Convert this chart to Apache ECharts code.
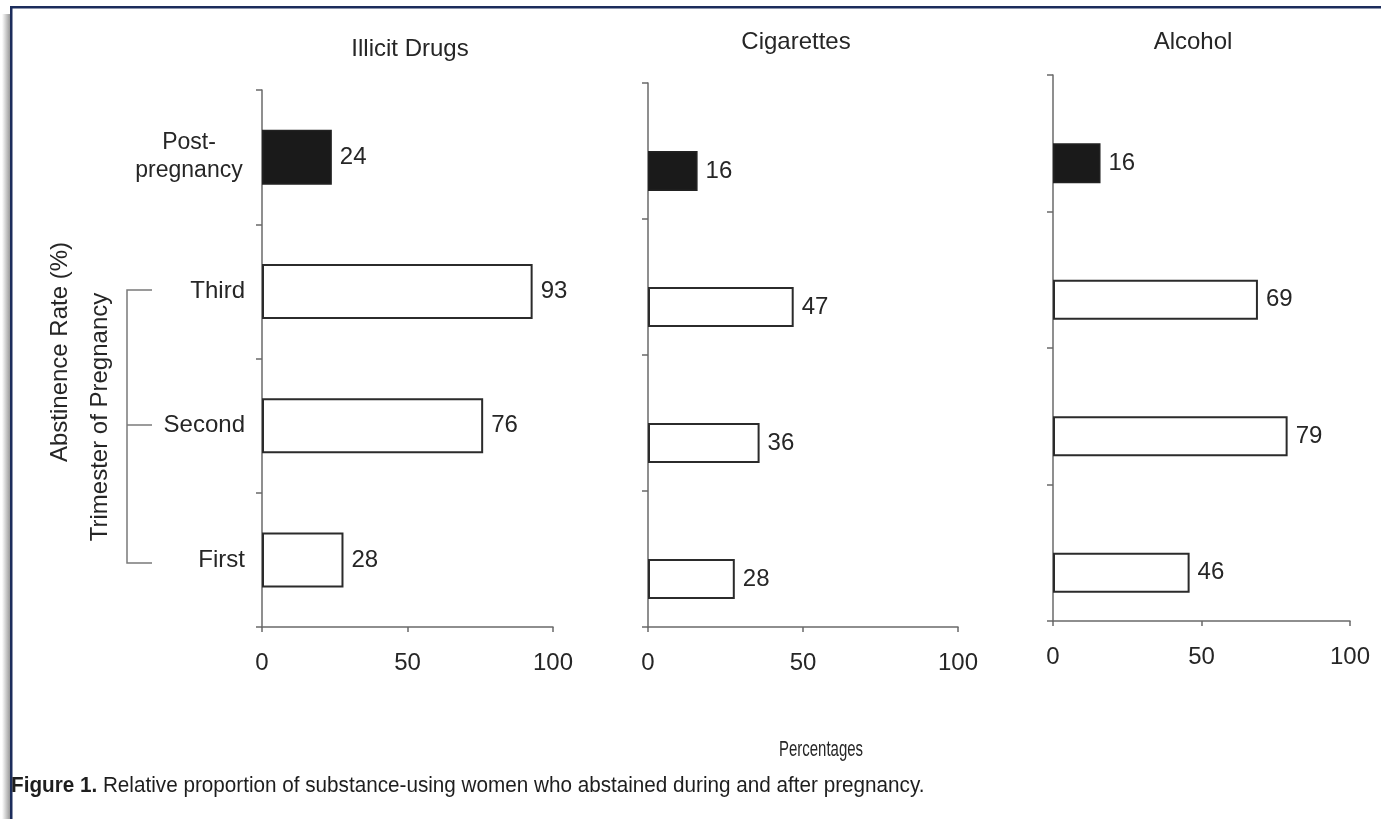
<!DOCTYPE html>
<html><head><meta charset="utf-8">
<script src="https://cdn.jsdelivr.net/npm/echarts@6/dist/echarts.min.js"></script>
<style>html,body{margin:0;padding:0;background:#fff}#c{width:1381px;height:819px}</style>
</head><body><div id="c"></div>
<script>
// ---- data ----
const categories = ['First', 'Second', 'Third', 'Post-pregnancy'];
const panelTitles = ['Illicit Drugs', 'Cigarettes', 'Alcohol'];
const illicitDrugs = [28, 76, 93, 24];
const cigarettes = [28, 36, 47, 16];
const alcohol = [46, 79, 69, 16];
const xTickLabels = [0, 50, 100];
const yAxisTitle = 'Abstinence Rate (%)';
const groupTitle = 'Trimester of Pregnancy';
const xAxisTitle = 'Percentages';
const captionBold = 'Figure 1.';
const captionText = 'Relative proportion of substance-using women who abstained during and after pregnancy.';

// ---- layout ----
const FONT = '"Liberation Sans", Arial, sans-serif';
const TXT = '#262626';
const panelData = [illicitDrugs, cigarettes, alcohol];
const frames = [
  {left: 262, top: 90, width: 291, height: 537, shift: 0, barW: 55, titleX: 405, titleY: 44},
  {left: 648, top: 83, width: 310, height: 544, shift: 20, barW: 40, titleX: 791, titleY: 37},
  {left: 1053, top: 75, width: 297, height: 546, shift: 20, barW: 40, titleX: 1188, titleY: 37}
];

const grid = [], xAxis = [], yAxis = [], series = [], title = [];
frames.forEach((f, p) => {
  grid.push({left: f.left, top: f.top, width: f.width, height: f.height, containLabel: false});
  grid.push({left: f.left, top: f.top + f.shift, width: f.width, height: f.height, containLabel: false});
  const gFrame = p * 2, gBar = p * 2 + 1;
  xAxis.push({
    gridIndex: gFrame, type: 'value', min: xTickLabels[0], max: xTickLabels[xTickLabels.length - 1],
    interval: xTickLabels[1] - xTickLabels[0],
    axisLine: {show: true, lineStyle: {color: '#6a6a6a', width: 1.5}},
    axisTick: {show: true, length: 5, lineStyle: {color: '#6a6a6a', width: 1.5}},
    splitLine: {show: false},
    axisLabel: {fontSize: 24, color: TXT, fontFamily: FONT, margin: 24}
  });
  xAxis.push({gridIndex: gBar, type: 'value', min: xTickLabels[0], max: xTickLabels[xTickLabels.length - 1], show: false, splitLine: {show: false}});
  yAxis.push({
    gridIndex: gFrame, type: 'category', data: categories,
    axisLine: {show: true, lineStyle: {color: '#6a6a6a', width: 1.5}},
    axisTick: {show: true, length: 6, lineStyle: {color: '#6a6a6a', width: 1.5}},
    axisLabel: p === 0 ? {
      show: true, margin: 17, fontSize: 24, color: TXT, fontFamily: FONT,
      formatter: v => v === 'Post-pregnancy' ? '{p|Post-}\n{p|pregnancy}' : v,
      rich: {p: {fontSize: 23, color: TXT, fontFamily: FONT, width: 112, align: 'center', lineHeight: 28}}
    } : {show: false}
  });
  yAxis.push({gridIndex: gBar, type: 'category', data: categories, show: false});
  series.push({
    type: 'bar', xAxisIndex: gBar, yAxisIndex: gBar, barWidth: f.barW,
    data: panelData[p].map((v, i) => ({
      value: v,
      itemStyle: categories[i] === 'Post-pregnancy'
        ? {color: '#1a1a1a', borderColor: '#222', borderWidth: 1.5}
        : {color: '#ffffff', borderColor: '#2b2b2b', borderWidth: 2}
    })),
    label: {show: true, position: 'right', distance: 8, fontSize: 24, color: TXT, fontFamily: FONT},
    silent: true, animation: false
  });
  title.push({
    text: panelTitles[p], left: f.titleX, top: f.titleY, textAlign: 'center', textVerticalAlign: 'middle',
    textStyle: {fontSize: 24, fontWeight: 'normal', color: TXT, fontFamily: FONT}
  });
});

const chart = echarts.init(document.getElementById('c'), null, {renderer: 'canvas'});
chart.setOption({
  backgroundColor: '#ffffff',
  animation: false,
  title: title,
  grid: grid, xAxis: xAxis, yAxis: yAxis, series: series,
  graphic: [
    {type: 'rect', shape: {x: 2, y: 14, width: 8, height: 805}, style: {fill: new echarts.graphic.LinearGradient(0, 0, 1, 0, [{offset: 0, color: '#ffffff'}, {offset: 1, color: '#9a9a9a'}])}, silent: true},
    {type: 'rect', shape: {x: 10, y: 6, width: 1371, height: 2.5}, style: {fill: '#1c2d5c'}, silent: true},
    {type: 'rect', shape: {x: 10, y: 6, width: 2.5, height: 813}, style: {fill: '#1c2d5c'}, silent: true},
    {type: 'text', x: 60, y: 352, rotation: Math.PI / 2,
      style: {text: yAxisTitle, fontSize: 24, fill: TXT, fontFamily: FONT, align: 'center', verticalAlign: 'middle'}},
    {type: 'text', x: 100, y: 417, rotation: Math.PI / 2,
      style: {text: groupTitle, fontSize: 24, fill: TXT, fontFamily: FONT, align: 'center', verticalAlign: 'middle'}},
    {type: 'polyline', shape: {points: [[152, 290], [127, 290], [127, 563], [152, 563]]}, style: {stroke: '#7a7a7a', lineWidth: 1.5, fill: null}},
    {type: 'line', shape: {x1: 127, y1: 425, x2: 152, y2: 425}, style: {stroke: '#7a7a7a', lineWidth: 1.5}},
    {type: 'text', x: 821, y: 750, scaleX: 0.68,
      style: {text: xAxisTitle, fontSize: 22, fill: TXT, fontFamily: FONT, align: 'center', verticalAlign: 'middle'}},
    {type: 'text', x: 11, y: 786, scaleX: 0.94,
      style: {
        text: '{b|' + captionBold + '}{r| ' + captionText + '}',
        verticalAlign: 'middle', align: 'left',
        rich: {
          b: {fontSize: 22, fontWeight: 'bold', fill: '#1e1e1e', fontFamily: FONT},
          r: {fontSize: 22, fill: '#1e1e1e', fontFamily: FONT}
        }
      }}
  ]
});
</script>
</body></html>
